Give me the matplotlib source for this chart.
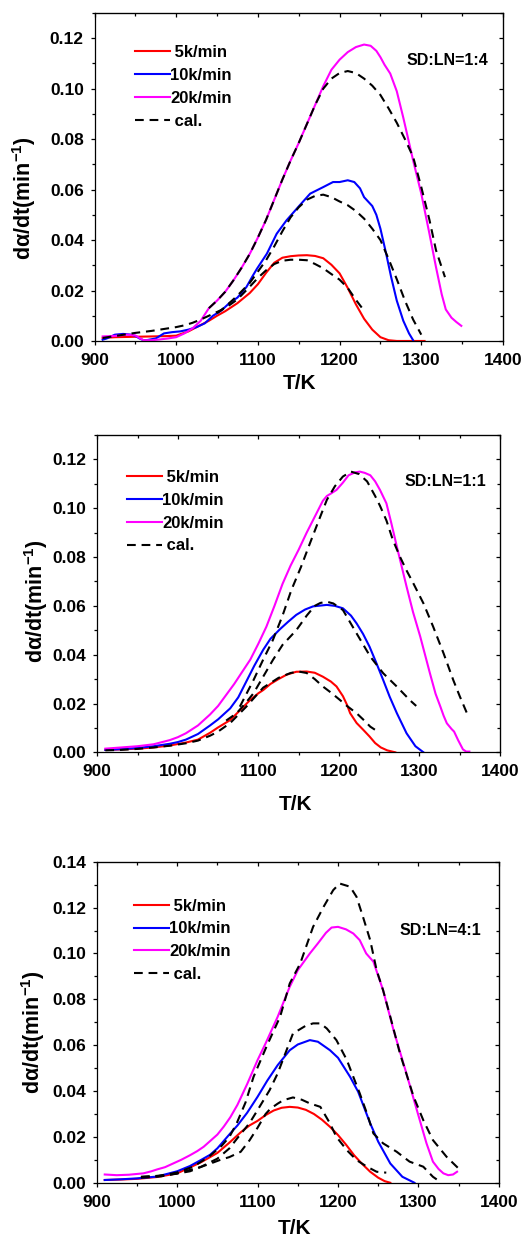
import matplotlib
matplotlib.use('Agg')
import matplotlib.pyplot as plt
from matplotlib.ticker import MultipleLocator, FormatStrFormatter, NullFormatter

plt.rcParams['font.family'] = ['Liberation Sans', 'DejaVu Sans']
plt.rcParams['font.weight'] = 'bold'
plt.rcParams['mathtext.fontset'] = 'custom'
plt.rcParams['mathtext.rm'] = 'Liberation Sans:bold'
plt.rcParams['mathtext.it'] = 'Liberation Sans:bold'
plt.rcParams['mathtext.bf'] = 'Liberation Sans:bold'
plt.rcParams['mathtext.default'] = 'rm'

# ---------------- Panel 1 : SD:LN=1:4 ----------------
p1_T5 = [910, 925, 940, 955, 970, 985, 1000, 1015, 1025, 1040, 1050, 1060, 1075, 1090, 1100, 1110, 1120, 1130,
         1140, 1150, 1160, 1170, 1180, 1190, 1200, 1210, 1220, 1230, 1240, 1250, 1260, 1270, 1304]
p1_5 = [0.0012, 0.0015, 0.0016, 0.0017, 0.0018, 0.0019, 0.0021, 0.0038, 0.0055, 0.0080, 0.0100, 0.0118, 0.0150,
        0.0190, 0.0225, 0.0270, 0.0310, 0.0330, 0.0336, 0.0339, 0.0340, 0.0337, 0.0328, 0.0302, 0.0268, 0.0210,
        0.0145, 0.0088, 0.0045, 0.0015, 0.0003, 0.0, 0.0]
p1_T10 = [910, 915, 925, 935, 945, 950, 955, 960, 965, 975, 985, 995, 1005, 1015, 1025, 1035, 1045, 1055, 1065,
          1075, 1086, 1094, 1099, 1111, 1123, 1135, 1151, 1164, 1180, 1192, 1200, 1210, 1218, 1225, 1230, 1240,
          1245, 1250, 1257, 1263, 1270, 1278, 1285, 1290]
p1_10 = [0.0005, 0.0010, 0.0025, 0.0028, 0.0025, 0.0020, 0.0010, 0.0003, 0.0004, 0.0010, 0.0030, 0.0035, 0.0038,
         0.0045, 0.0055, 0.0070, 0.0100, 0.0120, 0.0150, 0.0172, 0.0214, 0.0260, 0.0287, 0.0346, 0.0425, 0.0478,
         0.0537, 0.0584, 0.0610, 0.0630, 0.0630, 0.0637, 0.0630, 0.0605, 0.0570, 0.0535, 0.0500, 0.0445, 0.0346,
         0.0255, 0.0160, 0.0080, 0.0030, 0.0003]
p1_T20 = [910, 925, 940, 950, 955, 960, 970, 980, 990, 1000, 1010, 1020, 1030, 1040, 1050, 1060, 1070, 1080, 1090,
          1100, 1110, 1120, 1130, 1140, 1150, 1160, 1170, 1180, 1190, 1200, 1210, 1220, 1230, 1238, 1245, 1250,
          1255, 1262, 1270, 1278, 1290, 1300, 1310, 1318, 1325, 1330, 1337, 1343, 1349]
p1_20 = [0.0018, 0.0020, 0.0025, 0.0022, 0.0012, 0.0003, 0.0003, 0.0006, 0.0010, 0.0015, 0.0030, 0.0050, 0.0080,
         0.0130, 0.0160, 0.0195, 0.0240, 0.0290, 0.0345, 0.0410, 0.0480, 0.0560, 0.0640, 0.0715, 0.0785, 0.0860,
         0.0935, 0.1010, 0.1075, 0.1115, 0.1145, 0.1165, 0.1175, 0.1170, 0.1150, 0.1125, 0.1095, 0.1060, 0.0990,
         0.0885, 0.0716, 0.0584, 0.0425, 0.0293, 0.0185, 0.0125, 0.0092, 0.0075, 0.0060]
p1_Tc1 = [910, 930, 950, 970, 990, 1000, 1010, 1020, 1030, 1040, 1050, 1060, 1075, 1090, 1100, 1110, 1120, 1130,
          1140, 1150, 1160, 1170, 1180, 1190, 1200, 1210, 1220, 1230]
p1_c1 = [0.0012, 0.0022, 0.0032, 0.0040, 0.0050, 0.0055, 0.0062, 0.0072, 0.0085, 0.0100, 0.0115, 0.0130, 0.0165,
         0.0215, 0.0250, 0.0280, 0.0305, 0.0318, 0.0322, 0.0322, 0.0320, 0.0305, 0.0288, 0.0265, 0.0243, 0.0210,
         0.0163, 0.0120]
p1_Tc2 = [1050, 1060, 1075, 1090, 1100, 1110, 1120, 1130, 1140, 1150, 1160, 1170, 1180, 1190, 1200, 1210, 1220,
          1230, 1240, 1250, 1260, 1270, 1280, 1290, 1300]
p1_c2 = [0.0110, 0.0135, 0.0180, 0.0230, 0.0275, 0.0320, 0.0375, 0.0435, 0.0490, 0.0530, 0.0560, 0.0575, 0.0580,
         0.0570, 0.0553, 0.0538, 0.0515, 0.0485, 0.0445, 0.0400, 0.0325, 0.0245, 0.0160, 0.0085, 0.0025]
p1_Tc3 = [1040, 1050, 1060, 1070, 1080, 1090, 1100, 1110, 1120, 1130, 1140, 1150, 1160, 1170, 1180, 1190, 1200,
          1210, 1220, 1230, 1240, 1250, 1260, 1270, 1280, 1290, 1300, 1310, 1318, 1329]
p1_c3 = [0.0130, 0.0160, 0.0195, 0.0240, 0.0290, 0.0345, 0.0410, 0.0480, 0.0560, 0.0640, 0.0715, 0.0785, 0.0860,
         0.0935, 0.1000, 0.1040, 0.1062, 0.1070, 0.1062, 0.1040, 0.1012, 0.0975, 0.0922, 0.0865, 0.0800, 0.0730,
         0.0610, 0.0480, 0.0360, 0.0253]

# ---------------- Panel 2 : SD:LN=1:1 ----------------
p2_T5 = [910, 930, 950, 970, 990, 1000, 1010, 1025, 1040, 1050, 1065, 1075, 1090, 1100, 1106, 1115, 1125, 1135,
         1147, 1160, 1170, 1180, 1190, 1197, 1205, 1210, 1214, 1222, 1230, 1238, 1245, 1252, 1260, 1270]
p2_5 = [0.0010, 0.0012, 0.0015, 0.0020, 0.0028, 0.0034, 0.0040, 0.0052, 0.0080, 0.0102, 0.0132, 0.0165, 0.0215,
        0.0242, 0.0255, 0.0280, 0.0300, 0.0318, 0.0330, 0.0331, 0.0326, 0.0310, 0.0290, 0.0270, 0.0230, 0.0195,
        0.0160, 0.0120, 0.0093, 0.0065, 0.0038, 0.0020, 0.0008, 0.0]
p2_T10 = [910, 930, 950, 970, 990, 1000, 1010, 1025, 1040, 1050, 1065, 1075, 1085, 1095, 1106, 1115, 1127, 1137,
          1147, 1158, 1168, 1185, 1195, 1205, 1215, 1222, 1230, 1238, 1246, 1255, 1263, 1272, 1284, 1295, 1305]
p2_10 = [0.0010, 0.0013, 0.0018, 0.0025, 0.0035, 0.0042, 0.0052, 0.0075, 0.0110, 0.0135, 0.0180, 0.0225, 0.0290,
         0.0355, 0.0420, 0.0465, 0.0505, 0.0535, 0.0563, 0.0585, 0.0598, 0.0604, 0.0600, 0.0590, 0.0560, 0.0528,
         0.0485, 0.0433, 0.0370, 0.0296, 0.0228, 0.0160, 0.0078, 0.0025, 0.0]
p2_T20 = [910, 930, 950, 970, 990, 1000, 1010, 1025, 1040, 1050, 1060, 1070, 1080, 1090, 1100, 1110, 1120, 1130,
          1140, 1150, 1160, 1170, 1180, 1185, 1190, 1197, 1205, 1212, 1220, 1226, 1232, 1239, 1245, 1251, 1259,
          1265, 1272, 1284, 1292, 1301, 1313, 1320, 1326, 1330, 1334, 1340, 1343, 1348, 1354, 1358, 1362]
p2_20 = [0.0015, 0.0020, 0.0025, 0.0033, 0.0050, 0.0062, 0.0078, 0.0110, 0.0155, 0.0190, 0.0235, 0.0280, 0.0330,
         0.0380, 0.0445, 0.0515, 0.0600, 0.0690, 0.0765, 0.0830, 0.0900, 0.0965, 0.1030, 0.1050, 0.1060, 0.1075,
         0.1105, 0.1135, 0.1147, 0.1150, 0.1145, 0.1135, 0.1110, 0.1075, 0.1020, 0.0940, 0.0842, 0.0679, 0.0575,
         0.0474, 0.0324, 0.0240, 0.0187, 0.0150, 0.0119, 0.0095, 0.0085, 0.0050, 0.0012, 0.0003, 0.0003]
p2_Tc1 = [910, 930, 950, 970, 990, 1010, 1025, 1040, 1050, 1065, 1085, 1106, 1125, 1140, 1150, 1160, 1170, 1180,
          1190, 1200, 1210, 1222, 1230, 1239, 1245]
p2_c1 = [0.0008, 0.0010, 0.0014, 0.0020, 0.0027, 0.0037, 0.0048, 0.0068, 0.0085, 0.0120, 0.0187, 0.0265, 0.0305,
         0.0325, 0.0331, 0.0325, 0.0300, 0.0270, 0.0245, 0.0218, 0.0190, 0.0160, 0.0135, 0.0105, 0.0092]
p2_Tc2 = [1060, 1073, 1085, 1094, 1106, 1118, 1130, 1147, 1160, 1170, 1177, 1185, 1193, 1205, 1222, 1239, 1255,
          1272, 1288, 1296]
p2_c2 = [0.0130, 0.0160, 0.0205, 0.0242, 0.0310, 0.0378, 0.0440, 0.0500, 0.0560, 0.0600, 0.0612, 0.0617, 0.0610,
         0.0583, 0.0487, 0.0392, 0.0324, 0.0269, 0.0214, 0.0190]
p2_Tc3 = [1077, 1094, 1106, 1118, 1130, 1141, 1153, 1164, 1175, 1185, 1195, 1205, 1215, 1225, 1235, 1245, 1251,
          1259, 1267, 1276, 1284, 1292, 1305, 1317, 1330, 1342, 1350, 1359]
p2_c3 = [0.0187, 0.0296, 0.0380, 0.0460, 0.0560, 0.0665, 0.0760, 0.0856, 0.0950, 0.1034, 0.1090, 0.1130, 0.1150,
         0.1140, 0.1110, 0.1050, 0.1010, 0.0950, 0.0870, 0.0800, 0.0745, 0.0695, 0.0610, 0.0515, 0.0405, 0.0296,
         0.0230, 0.0160]

# ---------------- Panel 3 : SD:LN=4:1 ----------------
p3_T5 = [910, 930, 950, 975, 1000, 1016, 1030, 1050, 1065, 1079, 1090, 1100, 1110, 1120, 1130, 1140, 1150, 1160,
         1170, 1180, 1190, 1200, 1210, 1220, 1230, 1240, 1250, 1258, 1265]
p3_5 = [0.0012, 0.0014, 0.0017, 0.0025, 0.0041, 0.0067, 0.0090, 0.0130, 0.0175, 0.0220, 0.0250, 0.0270, 0.0295,
        0.0315, 0.0327, 0.0331, 0.0328, 0.0318, 0.0300, 0.0275, 0.0244, 0.0208, 0.0166, 0.0120, 0.0082, 0.0048,
        0.0022, 0.0007, 0.0]
p3_T10 = [910, 930, 950, 975, 1000, 1016, 1030, 1041, 1050, 1066, 1075, 1087, 1100, 1112, 1125, 1140, 1150, 1165,
          1175, 1190, 1200, 1215, 1225, 1240, 1250, 1265, 1280, 1295]
p3_10 = [0.0012, 0.0015, 0.0019, 0.0027, 0.0050, 0.0073, 0.0100, 0.0122, 0.0150, 0.0215, 0.0250, 0.0305, 0.0375,
         0.0445, 0.0513, 0.0578, 0.0603, 0.0622, 0.0615, 0.0578, 0.0545, 0.0462, 0.0397, 0.0259, 0.0179, 0.0084,
         0.0026, 0.0]
p3_T20 = [910, 925, 940, 958, 968, 975, 985, 995, 1005, 1016, 1025, 1033, 1042, 1050, 1058, 1066, 1075, 1087,
          1100, 1110, 1125, 1140, 1150, 1165, 1175, 1185, 1192, 1200, 1210, 1219, 1227, 1235, 1244, 1256, 1269,
          1285, 1298, 1310, 1318, 1325, 1331, 1337, 1343, 1348]
p3_20 = [0.0036, 0.0033, 0.0035, 0.0041, 0.0050, 0.0058, 0.0068, 0.0084, 0.0100, 0.0120, 0.0138, 0.0157, 0.0185,
         0.0210, 0.0245, 0.0285, 0.0340, 0.0430, 0.0535, 0.0608, 0.0724, 0.0855, 0.0927, 0.1000, 0.1044, 0.1090,
         0.1113, 0.1116, 0.1105, 0.1087, 0.1058, 0.1000, 0.0964, 0.0840, 0.0666, 0.0477, 0.0317, 0.0172, 0.0092,
         0.0060, 0.0041, 0.0033, 0.0036, 0.0048]
p3_Tc1 = [955, 975, 999, 1015, 1028, 1040, 1053, 1065, 1079, 1090, 1100, 1110, 1116, 1125, 1132, 1144, 1155, 1165,
          1178, 1190, 1198, 1211, 1223, 1236, 1248, 1260]
p3_c1 = [0.0026, 0.0030, 0.0040, 0.0055, 0.0067, 0.0082, 0.0099, 0.0112, 0.0135, 0.0185, 0.0240, 0.0300, 0.0323,
         0.0345, 0.0360, 0.0372, 0.0362, 0.0346, 0.0331, 0.0259, 0.0200, 0.0142, 0.0099, 0.0070, 0.0048, 0.0044]
p3_Tc2 = [955, 980, 1000, 1016, 1030, 1050, 1065, 1075, 1090, 1100, 1115, 1125, 1144, 1160, 1169, 1178, 1186,
          1198, 1211, 1219, 1227, 1236, 1244, 1256, 1273, 1289, 1306, 1318, 1327]
p3_c2 = [0.0022, 0.0028, 0.0040, 0.0050, 0.0070, 0.0105, 0.0150, 0.0195, 0.0260, 0.0317, 0.0404, 0.0477, 0.0651,
         0.0685, 0.0695, 0.0695, 0.0673, 0.0622, 0.0535, 0.0462, 0.0390, 0.0302, 0.0215, 0.0172, 0.0135, 0.0092,
         0.0070, 0.0026, 0.0004]
p3_Tc3 = [955, 980, 1000, 1020, 1040, 1055, 1065, 1074, 1085, 1095, 1111, 1128, 1140, 1153, 1169, 1182, 1194,
          1202, 1215, 1223, 1231, 1240, 1248, 1256, 1265, 1277, 1294, 1306, 1318, 1335, 1354]
p3_c3 = [0.0025, 0.0030, 0.0045, 0.0070, 0.0115, 0.0160, 0.0200, 0.0259, 0.0350, 0.0462, 0.0593, 0.0724, 0.0869,
         0.0956, 0.1116, 0.1203, 0.1276, 0.1305, 0.1291, 0.1247, 0.1160, 0.1058, 0.0927, 0.0840, 0.0724, 0.0564,
         0.0375, 0.0273, 0.0186, 0.0113, 0.0048]

legend_labels = [' 5k/min', '10k/min', '20k/min', ' cal.']
panel_titles = ['SD:LN=1:4', 'SD:LN=1:1', 'SD:LN=4:1']
x_ticks = [900, 1000, 1100, 1200, 1300, 1400]

panels = [
    dict(T5=p1_T5, y5=p1_5, T10=p1_T10, y10=p1_10, T20=p1_T20, y20=p1_20,
         cal=[(p1_Tc1, p1_c1), (p1_Tc2, p1_c2), (p1_Tc3, p1_c3)],
         rect=[0.1807, 0.7248, 0.7810, 0.2647], ymax=0.13,
         leg=(0.099, 0.9015), txt=(0.764, 0.855), xl=(0.502, -0.100), yl=(-0.138, 0.436)),
    dict(T5=p2_T5, y5=p2_5, T10=p2_T10, y10=p2_10, T20=p2_T20, y20=p2_20,
         cal=[(p2_Tc1, p2_c1), (p2_Tc2, p2_c2), (p2_Tc3, p2_c3)],
         rect=[0.1860, 0.3928, 0.7700, 0.2561], ymax=0.13,
         leg=(0.0745, 0.890), txt=(0.764, 0.853), xl=(0.491, -0.135), yl=(-0.117, 0.477)),
    dict(T5=p3_T5, y5=p3_5, T10=p3_T10, y10=p3_10, T20=p3_T20, y20=p3_20,
         cal=[(p3_Tc1, p3_c1), (p3_Tc2, p3_c2), (p3_Tc3, p3_c3)],
         rect=[0.1849, 0.0454, 0.7690, 0.2591], ymax=0.14,
         leg=(0.0927, 0.885), txt=(0.754, 0.787), xl=(0.493, -0.112), yl=(-0.124, 0.470)),
]

fig = plt.figure(figsize=(5.23, 12.39), dpi=100)

LW = 1.5
DASH = (0, (4.2, 2.8))

for i, p in enumerate(panels):
    ax = fig.add_axes(p['rect'])
    ax.plot(p['T5'], p['y5'], color='#ff0000', lw=LW, label=legend_labels[0])
    ax.plot(p['T10'], p['y10'], color='#0000ff', lw=LW, label=legend_labels[1])
    ax.plot(p['T20'], p['y20'], color='#ff00ff', lw=LW, label=legend_labels[2])
    for j, (tc, yc) in enumerate(p['cal']):
        ax.plot(tc, yc, color='black', lw=LW, linestyle=DASH,
                label=legend_labels[3] if j == 0 else None)

    ax.set_xlim(900, 1400)
    ax.set_ylim(0, p['ymax'])
    ax.set_xticks(x_ticks)
    ax.xaxis.set_minor_locator(MultipleLocator(50))
    ax.yaxis.set_major_locator(MultipleLocator(0.02))
    ax.yaxis.set_minor_locator(MultipleLocator(0.01))
    ax.yaxis.set_major_formatter(FormatStrFormatter('%.2f'))
    ax.tick_params(which='major', direction='out', length=3.2, width=0.9, labelsize=12.5)
    ax.tick_params(which='minor', direction='out', length=2.0, width=0.9)
    ax.tick_params(axis='x', which='major', pad=5.5)
    ax.tick_params(axis='y', which='major', pad=4.5)
    for lab in ax.get_xticklabels() + ax.get_yticklabels():
        lab.set_fontweight('bold')
    for s in ax.spines.values():
        s.set_linewidth(0.9)

    # inward ticks on top and right
    sx = ax.secondary_xaxis('top')
    sx.set_xticks(x_ticks)
    sx.xaxis.set_minor_locator(MultipleLocator(50))
    sx.xaxis.set_major_formatter(NullFormatter())
    sx.tick_params(which='major', direction='in', length=3.2, width=0.9)
    sx.tick_params(which='minor', direction='in', length=2.0, width=0.9)
    sy = ax.secondary_yaxis('right')
    sy.yaxis.set_major_locator(MultipleLocator(0.02))
    sy.yaxis.set_minor_locator(MultipleLocator(0.01))
    sy.yaxis.set_major_formatter(NullFormatter())
    sy.tick_params(which='major', direction='in', length=3.2, width=0.9)
    sy.tick_params(which='minor', direction='in', length=2.0, width=0.9)

    ax.set_xlabel('T/K', fontsize=15, fontweight='bold')
    ax.xaxis.set_label_coords(*p['xl'])
    ax.set_ylabel('dα/dt(min$^{-1}$)', fontsize=15.5, fontweight='bold')
    ax.yaxis.set_label_coords(*p['yl'])

    ax.text(p['txt'][0], p['txt'][1], panel_titles[i], transform=ax.transAxes,
            ha='left', va='center', fontsize=11.5, fontweight='bold')

    ax.legend(loc='upper left', bbox_to_anchor=p['leg'], frameon=False,
              prop={'weight': 'bold', 'size': 12}, handlelength=2.1, handletextpad=0.0,
              labelspacing=0.47, borderpad=0.0, borderaxespad=0.0)

fig.savefig('out.png', dpi=100)
